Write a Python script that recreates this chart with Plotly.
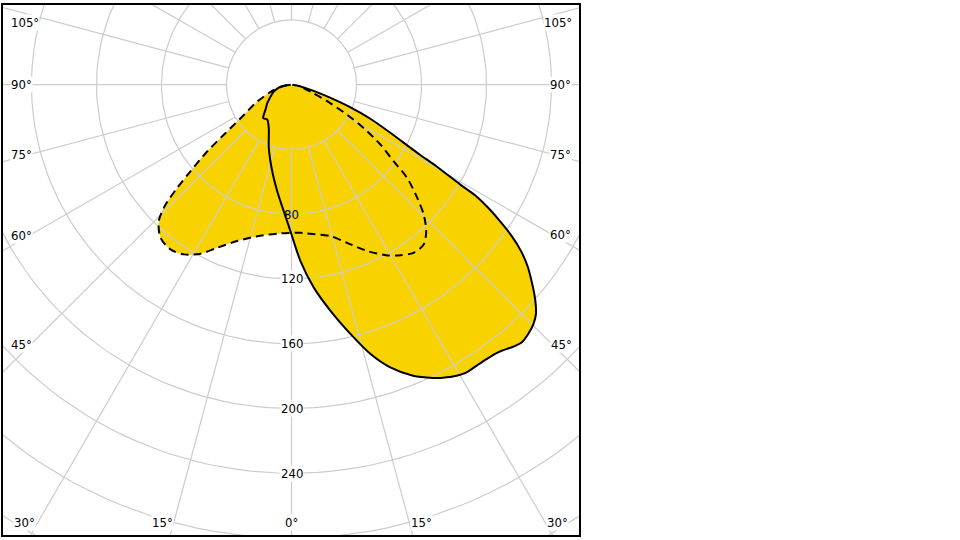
import math
import plotly.graph_objects as go

# ---- data: luminous intensity curves (gamma angle in degrees, 0 = nadir, + = right side) ----
gamma_solid = [-90, -79.7, -68.4, -60.3, -52.4, -46.1, -42.7, -40.0, -34.8, -27.5, -19.6, -12.5,
               -7.6, -3.5, -0.4, 2.9, 6.25, 9.75, 13.3, 16.3, 19.2, 22.6, 25.7, 26.8, 27.85, 29.5,
               31.25, 33.3, 35.3, 37.0, 38.2, 39.9, 41.7, 43.4, 45.2, 46.7, 48.7, 50.62, 52.36, 53.96,
               55.38, 56.69, 57.9, 58.83, 59.3, 60.5, 61.3, 62.0, 64.02, 66.6, 68.96, 71.35, 74.4, 80, 90]
cd_solid = [0.5, 6.9, 11.7, 14.9, 18.9, 22.2, 25.1, 27.1, 26.2, 30.3, 41.6, 54.8,
            66.4, 78.3, 90.5, 109.1, 126.1, 141.7, 158.3, 173.3, 184.9, 194.7, 201.0, 202.9, 204.4, 206.5,
            207.8, 207.6, 207.7, 208.2, 209.1, 211.4, 213.1, 212.0, 209.8, 206.7, 199.4, 191.1, 183.4, 174.7,
            164.7, 153.5, 142.5, 132.0, 120.6, 102.6, 90.1, 82.6, 67.4, 52.6, 38.6, 25.0, 13.7, 5.3, 0.5]

gamma_dashed = [-86, -73.3, -63.6, -56.5, -53.4, -51.5, -49.3, -47.8, -46.3, -44.1, -40.4, -36.2,
                -32.3, -28.2, -24.4, -19.1, -12.7, -4.2, 3.5, 6.0, 14.4, 19.3, 24.4, 29.2, 32.5,
                35.9, 39.5, 42.5, 45.4, 47.9, 51.0, 53.0, 55.9, 58.9, 61.5, 64.4, 68.7, 77.5]
cd_dashed = [2.7, 11.4, 23.6, 37.6, 51.9, 66.3, 82.0, 95.0, 107.2, 117.4, 124.3, 126.1,
             124.0, 118.5, 110.6, 102.2, 95.9, 92.1, 91.7, 92.4, 96.6, 103.5, 112.8, 120.8, 124.9,
             128.2, 127.9, 122.7, 114.3, 104.3, 91.6, 78.8, 66.2, 52.0, 39.0, 26.6, 14.7, 5.7]

radial_ticks = [80, 120, 160, 200, 240]
grid_circles = [40, 80, 120, 160, 200, 240, 280, 320]
spoke_angles = list(range(0, 360, 15))
angle_labels_left = ["105°", "90°", "75°", "60°", "45°", "30°"]
angle_labels_bottom = ["15°", "0°", "15°"]
angle_labels_right = ["30°", "45°", "60°", "75°", "90°", "105°"]

YELLOW = "#F9D300"
GRID = "#cccccc"
FONT = "DejaVu Sans Condensed, Liberation Sans, sans-serif"


def to_xy(gammas, rs):
    xs = [r * math.sin(math.radians(g)) for g, r in zip(gammas, rs)]
    ys = [-r * math.cos(math.radians(g)) for g, r in zip(gammas, rs)]
    return xs, ys


fig = go.Figure()

# fills
for g, c in ((gamma_solid, cd_solid), (gamma_dashed, cd_dashed)):
    xs, ys = to_xy(g, c)
    fig.add_trace(go.Scatter(x=xs + [xs[0]], y=ys + [ys[0]], mode="lines", fill="toself",
                             fillcolor=YELLOW, line=dict(width=0, color=YELLOW, shape="spline", smoothing=0.8),
                             hoverinfo="skip", showlegend=False))

# grid circles
for rc in grid_circles:
    th = list(range(0, 361, 2))
    xs, ys = to_xy(th, [rc] * len(th))
    fig.add_trace(go.Scatter(x=xs, y=ys, mode="lines", line=dict(color=GRID, width=1.2),
                             hoverinfo="skip", showlegend=False))
# spokes
sx, sy = [], []
for a in spoke_angles:
    xs, ys = to_xy([a, a], [40, 360])
    sx += xs + [None]
    sy += ys + [None]
fig.add_trace(go.Scatter(x=sx, y=sy, mode="lines", line=dict(color=GRID, width=1.2),
                         hoverinfo="skip", showlegend=False))

# curves
xs, ys = to_xy(gamma_solid, cd_solid)
fig.add_trace(go.Scatter(x=xs, y=ys, mode="lines",
                         line=dict(color="black", width=2, shape="spline", smoothing=0.8),
                         hoverinfo="skip", showlegend=False))
xs, ys = to_xy(gamma_dashed, cd_dashed)
fig.add_trace(go.Scatter(x=xs, y=ys, mode="lines",
                         line=dict(color="black", width=2, dash="8px,5px", shape="spline", smoothing=0.8),
                         hoverinfo="skip", showlegend=False))

# geometry (pixel -> data)
CX, CY, S = 291.5, 83.0, 1.625
L, R, T, B = 3, 579, 3, 535


def px(xp, yp):
    return (xp - CX) / S, (CY - yp) / S


annotations = []
# radial labels
for v in radial_ticks:
    annotations.append(dict(x=0, y=-v, text=str(v), showarrow=False,
                            font=dict(family=FONT, size=13, color="black"),
                            bgcolor=None if v == 80 else "white", borderpad=0))
# angle labels
left_pos = [(24.5, 21), (21.5, 83), (21.5, 153), (21.5, 234), (21.5, 344), (24, 522)]
bottom_pos = [(162, 522), (291.5, 522), (421, 522)]
right_pos = [(557.5, 522), (561, 344), (560, 233), (560, 153), (560, 83), (557.5, 21)]
for labels, poss in ((angle_labels_left, left_pos), (angle_labels_bottom, bottom_pos),
                     (angle_labels_right, right_pos)):
    for t, (xp, yp) in zip(labels, poss):
        x, y = px(xp, yp)
        annotations.append(dict(x=x, y=y, text=t, showarrow=False,
                                font=dict(family=FONT, size=13, color="black"),
                                bgcolor="white", borderpad=0))

x0, y0 = px(L, B)
x1, y1 = px(R, T)
axis_common = dict(showgrid=False, zeroline=False, showticklabels=False, ticks="",
                   showline=True, linecolor="black", linewidth=1.5, mirror=True, fixedrange=True)
fig.update_layout(
    width=960, height=540,
    margin=dict(l=L, r=960 - R, t=T, b=540 - B),
    paper_bgcolor="white", plot_bgcolor="white",
    xaxis=dict(range=[x0, x1], **axis_common),
    yaxis=dict(range=[y0, y1], **axis_common),
    annotations=annotations,
    showlegend=False,
)
fig.write_html("out.html")
